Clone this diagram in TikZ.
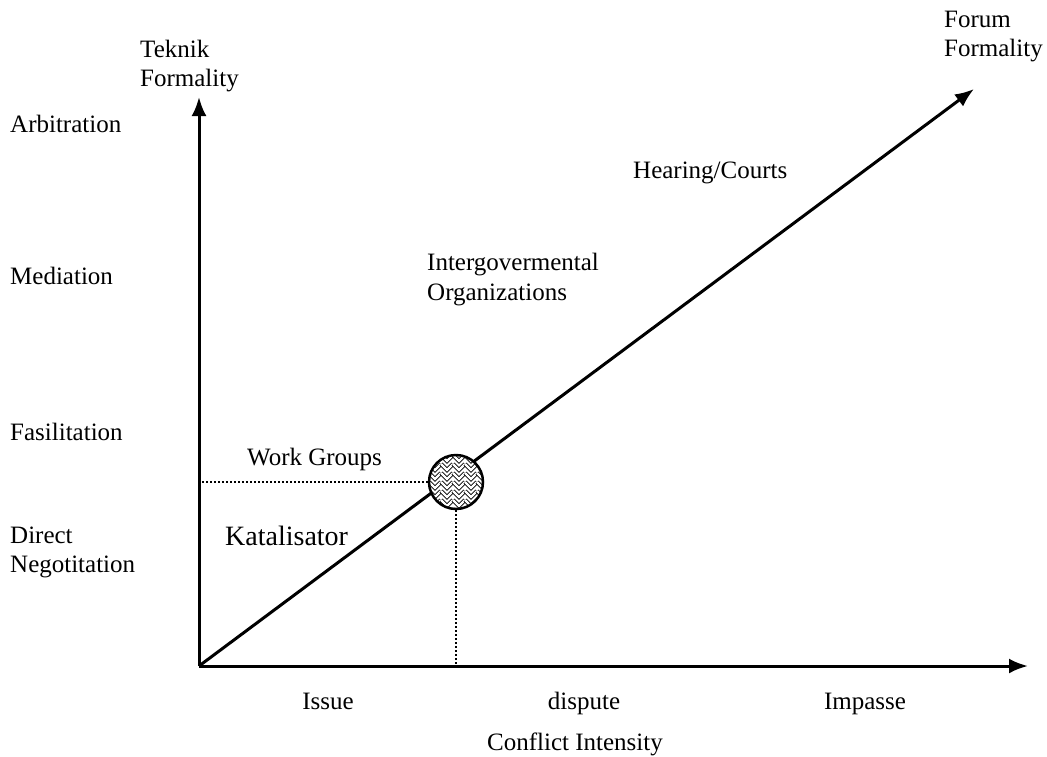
\documentclass[tikz,border=0pt]{standalone}
\usepackage{fontspec}
\setmainfont{Liberation Serif}
\usetikzlibrary{arrows.meta}

\begin{document}
\begin{tikzpicture}[x=1pt, y=-1pt,
                    every node/.style={font=\fontsize{25}{28.5}\selectfont, inner sep=0pt, align=left},
                    axis/.style={line width=3pt, -{Latex[length=19pt, width=15pt]}},
                    guide/.style={line width=2pt, dotted},
                    weave/.style={line width=0.9pt, double=white, double distance=2.2pt},
                    hub/.style={circle, draw, fill=white, line width=2.5pt, minimum size=54pt,
                                path picture={
                                  \begin{scope}[shift={(path picture bounding box.center)}, rotate=45]
                                    \foreach \r in {-6,...,6}
                                      \foreach \c in {-5,...,5}
                                        \draw[weave] (\c*12-3, \r*9) -- ++(6,6) -- ++(6,-6);
                                  \end{scope}}}]

    \useasboundingbox (0,0) rectangle (1047,756);

    % Axes
    \coordinate (O) at (199,666); % origin
    \coordinate (ytip) at (199,97);
    \coordinate (xtip) at (1028,666);
    \coordinate (dtip) at (974,89);

    \draw[axis] (O) -- (ytip);
    \draw[axis] (O) -- (xtip);
    \draw[axis] (O) -- (dtip);

    % Marker on the diagonal
    \node[hub] (hub) at (456,482) {};
    \draw[guide] (hub.west) -- (hub.west -| O);
    \draw[guide] (hub.south) -- (hub.south |- O);

    % Axis titles (base = last line)
    \node[anchor=base west] (teknik) at (140,86) {Teknik\\Formality};
    \node[anchor=base west] (forum) at (944,56) {Forum\\Formality};
    \node[anchor=base] (intensity) at (575,750) {Conflict Intensity};

    % Levels on the vertical axis
    \node[anchor=base west] (arb) at (10,132) {Arbitration};
    \node[anchor=base west] (med) at (10,284) {Mediation};
    \node[anchor=base west] (fas) at (10,440) {Fasilitation};
    \node[anchor=base west] (neg) at (10,572) {Direct\\Negotitation};

    % Levels on the horizontal axis
    \node[anchor=base] (issue) at (328,709) {Issue};
    \node[anchor=base] (dispute) at (584,709) {dispute};
    \node[anchor=base] (impasse) at (865,709) {Impasse};

    % Forums along the diagonal
    \node[anchor=base west] (work) at (247,465) {Work Groups};
    \node[anchor=base west, font=\fontsize{28}{32}\selectfont] (kat) at (225,545) {Katalisator};
    \node[anchor=base west] (igo) at (427,300) {Intergovermental\\[1.5pt]Organizations};
    \node[anchor=base west] (court) at (633,178) {Hearing/Courts};
\end{tikzpicture}
\end{document}
